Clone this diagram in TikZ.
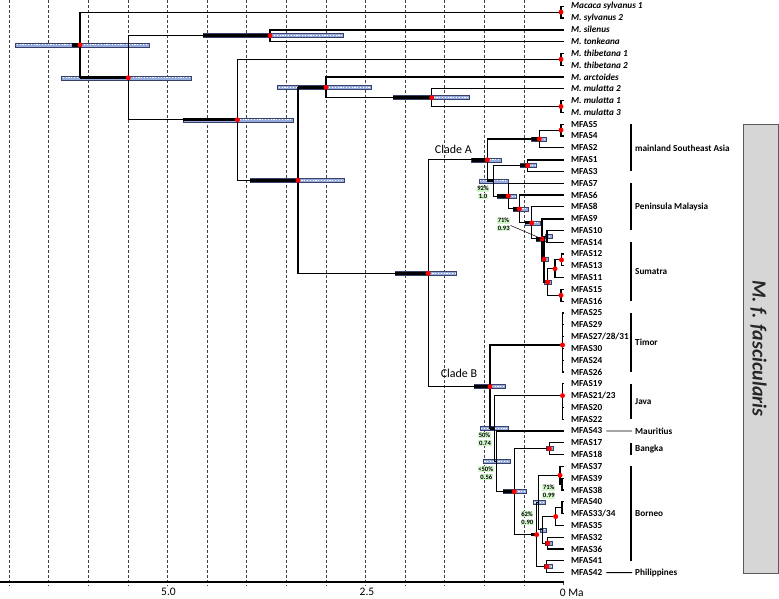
\documentclass[tikz,border=0pt]{standalone}
\usepackage{fontspec}
\setmainfont{Carlito}
\definecolor{hpdfill}{RGB}{150,172,222}
\definecolor{hpdline}{RGB}{55,65,105}
\definecolor{supfill}{RGB}{212,246,204}
\definecolor{boxfill}{RGB}{214,214,214}
\definecolor{boxline}{RGB}{90,90,90}
\tikzset{
  gridln/.style={draw=black!75, line width=0.7pt, dash pattern=on 3pt off 2pt},
  axisln/.style={draw=black, line width=1.3pt},
  br/.style={draw=black, line width=1.1pt},
  thk/.style={draw=black, line width=3.2pt},
  medbr/.style={draw=black, line width=2.1pt},
  hpdbar/.style={fill=hpdfill, draw=hpdline, line width=0.5pt},
  hpddots/.style={draw=white, line width=0.9pt, dash pattern=on 1.2pt off 1.6pt},
  ndot/.style={fill=red},
  leaflab/.style={anchor=west, inner sep=0pt, font=\fontsize{9.2}{10}\selectfont\bfseries},
  oglab/.style={anchor=west, inner sep=0pt, font=\fontsize{9.2}{10}\selectfont\bfseries\itshape},
  reglab/.style={anchor=west, inner sep=0pt, font=\fontsize{9.2}{10}\selectfont\bfseries},
  regbar/.style={draw=black, line width=1.8pt},
  sup/.style={fill=supfill, inner sep=0.7pt, font=\fontsize{6.6}{7}\selectfont\bfseries},
  cladelab/.style={font=\fontsize{12}{14}\selectfont, inner sep=0pt},
  axlab/.style={font=\fontsize{11.5}{13}\selectfont, inner sep=0pt},
  pointer/.style={draw=black, line width=0.5pt},
  connector/.style={draw=black, line width=0.9pt},
}
\newcommand\hpd[3]{\filldraw[hpdbar] (#1,{#3-2}) rectangle (#2,{#3+2}); \draw[hpddots] ({#1+1},#3) -- ({#2-1},#3);}
\newcommand\leaf[3]{\coordinate (#1) at (564,{6.2+11.8*#2}); \node[leaflab] (#1t) at (571,{6.2+11.8*#2}) {#3};}
\newcommand\ogleaf[3]{\coordinate (#1) at (564,{6.2+11.8*#2}); \node[oglab] (#1t) at (571,{6.2+11.8*#2}) {#3};}
\newcommand\dotat[1]{\fill[ndot] (#1) circle (2.5);}
\begin{document}
\begin{tikzpicture}[x=1pt,y=-1pt]
\useasboundingbox (0,0) rectangle (779,598);

% time grid
\foreach \k in {1,...,14} {\draw[gridln] ({563.5-39.6*\k},0) -- ({563.5-39.6*\k},586);}
\draw[gridln] (563.5,582) -- (563.5,586);
\draw[axisln] (0,582) -- (563.5,582);
\node[axlab] (t50) at (168.5,592.3) {5.0};
\node[axlab] (t25) at (367,592.3) {2.5};
\node[axlab, anchor=west] (t00) at (559.7,592.3) {0 Ma};

% leaves
\ogleaf{l0}{0}{Macaca sylvanus 1}
\ogleaf{l1}{1}{M. sylvanus 2}
\ogleaf{l2}{2}{M. silenus}
\ogleaf{l3}{3}{M. tonkeana}
\ogleaf{l4}{4}{M. thibetana 1}
\ogleaf{l5}{5}{M. thibetana 2}
\ogleaf{l6}{6}{M. arctoides}
\ogleaf{l7}{7}{M. mulatta 2}
\ogleaf{l8}{8}{M. mulatta 1}
\ogleaf{l9}{9}{M. mulatta 3}
\leaf{l10}{10}{MFAS5}
\leaf{l11}{11}{MFAS4}
\leaf{l12}{12}{MFAS2}
\leaf{l13}{13}{MFAS1}
\leaf{l14}{14}{MFAS3}
\leaf{l15}{15}{MFAS7}
\leaf{l16}{16}{MFAS6}
\leaf{l17}{17}{MFAS8}
\leaf{l18}{18}{MFAS9}
\leaf{l19}{19}{MFAS10}
\leaf{l20}{20}{MFAS14}
\leaf{l21}{21}{MFAS12}
\leaf{l22}{22}{MFAS13}
\leaf{l23}{23}{MFAS11}
\leaf{l24}{24}{MFAS15}
\leaf{l25}{25}{MFAS16}
\leaf{l26}{26}{MFAS25}
\leaf{l27}{27}{MFAS29}
\leaf{l28}{28}{MFAS27/28/31}
\leaf{l29}{29}{MFAS30}
\leaf{l30}{30}{MFAS24}
\leaf{l31}{31}{MFAS26}
\leaf{l32}{32}{MFAS19}
\leaf{l33}{33}{MFAS21/23}
\leaf{l34}{34}{MFAS20}
\leaf{l35}{35}{MFAS22}
\leaf{l36}{36}{MFAS43}
\leaf{l37}{37}{MFAS17}
\leaf{l38}{38}{MFAS18}
\leaf{l39}{39}{MFAS37}
\leaf{l40}{40}{MFAS39}
\leaf{l41}{41}{MFAS38}
\leaf{l42}{42}{MFAS40}
\leaf{l43}{43}{MFAS33/34}
\leaf{l44}{44}{MFAS35}
\leaf{l45}{45}{MFAS32}
\leaf{l46}{46}{MFAS36}
\leaf{l47}{47}{MFAS41}
\leaf{l48}{48}{MFAS42}

% internal nodes
\coordinate (nR0) at (80,44.9);
\coordinate (nSyl) at (561,12.1);
\coordinate (nR2) at (128.3,77.75);
\coordinate (nSil) at (270,35.7);
\coordinate (nR3) at (237.4,119.8);
\coordinate (nThib) at (561,59.3);
\coordinate (nR4) at (298,180.3);
\coordinate (nR5) at (326,87.3);
\coordinate (nR6) at (431.7,97.65);
\coordinate (nMul) at (561,106.5);
\coordinate (nF) at (428.3,273.3);
\coordinate (nA0) at (487.3,159.9);
\coordinate (nA1) at (539.3,138.95);
\coordinate (nA1a) at (561,130.1);
\coordinate (nA2) at (493.3,180.8);
\coordinate (nA3) at (527.7,165.5);
\coordinate (nA4) at (508.3,196.05);
\coordinate (nA5) at (519.3,208.9);
\coordinate (nA6) at (531.7,222.85);
\coordinate (nA7) at (542,238.9);
\coordinate (nW) at (544,259.15);
\coordinate (nM) at (547,236.3);
\coordinate (nS) at (547.7,282.0);
\coordinate (nS1) at (555,268.75);
\coordinate (nS12) at (561.5,259.9);
\coordinate (nS15) at (561,295.3);
\coordinate (nB0) at (490,386.7);
\coordinate (nT) at (562.5,345);
\coordinate (nB1) at (494.3,428.45);
\coordinate (nJ) at (562.5,395.6);
\coordinate (nB2) at (496.7,461.3);
\coordinate (nB3) at (514.3,491.65);
\coordinate (nBk) at (549.3,448.7);
\coordinate (nB4) at (536.7,534.6);
\coordinate (nB5) at (538.7,502.5);
\coordinate (nBn37) at (560,475.25);
\coordinate (nBn39) at (562,484.1);
\coordinate (nC) at (542.7,529.8);
\coordinate (nBn40) at (555.7,516.55);
\coordinate (nBn40i) at (562,507.7);
\coordinate (nBn2) at (547.7,543.1);
\coordinate (nPh) at (546.7,566.7);

% HPD bars
\hpd{15.7}{149.3}{44.9}
\hpd{61.7}{191.7}{77.75}
\hpd{203}{343}{35.7}
\hpd{182.8}{293}{119.8}
\hpd{250}{344.4}{180.3}
\hpd{277.7}{371.7}{87.3}
\hpd{393.3}{469.3}{97.65}
\hpd{395}{456}{273.3}
\hpd{471.7}{501.7}{159.9}
\hpd{531.7}{546.7}{138.95}
\hpd{479}{508.3}{180.8}
\hpd{520}{536.7}{165.5}
\hpd{497}{516.7}{196.05}
\hpd{513}{528.3}{208.9}
\hpd{525}{540}{222.85}
\hpd{536}{546}{238.9}
\hpd{545}{552}{236.3}
\hpd{541}{548}{259.15}
\hpd{544}{551}{282.0}
\hpd{474}{505}{386.7}
\hpd{480}{508.3}{428.45}
\hpd{483.3}{510}{461.3}
\hpd{503.3}{526}{491.65}
\hpd{546.7}{553}{448.7}
\hpd{533.3}{545}{502.5}
\hpd{540}{546.7}{529.8}
\hpd{545}{552}{543.1}
\hpd{544}{552}{566.7}

% branches: parent |- child
\foreach \p/\c in {nR0/nSyl, nR0/nR2, nSyl/l0, nSyl/l1, nR2/nSil, nR2/nR3,
  nSil/l2, nSil/l3, nR3/nThib, nR3/nR4, nThib/l4, nThib/l5, nR4/nR5, nR4/nF,
  nR5/l6, nR5/nR6, nR6/l7, nR6/nMul, nMul/l8, nMul/l9,
  nF/nA0, nF/nB0, nA0/nA1, nA0/nA2, nA1/nA1a, nA1/l12, nA1a/l10, nA1a/l11,
  nA2/nA3, nA2/nA4, nA3/l13, nA3/l14, nA4/l15, nA4/nA5, nA5/l16, nA5/nA6,
  nA6/l17, nA6/nA7, nA7/l18, nA7/nW, nW/nM, nW/nS, nM/l19, nM/l20,
  nS/nS1, nS/nS15, nS1/nS12, nS1/l23, nS12/l21, nS12/l22, nS15/l24, nS15/l25,
  nB0/nT, nB0/nB1, nT/l26, nT/l27, nT/l28, nT/l29, nT/l30, nT/l31,
  nB1/nJ, nB1/nB2, nJ/l32, nJ/l33, nJ/l34, nJ/l35,
  nB2/l36, nB2/nB3, nB3/nBk, nB3/nB4, nBk/l37, nBk/l38,
  nB4/nB5, nB4/nPh, nB5/nBn37, nB5/nC, nBn37/l39, nBn37/nBn39, nBn39/l40, nBn39/l41,
  nC/nBn40, nC/nBn2, nBn40/nBn40i, nBn40/l44, nBn40i/l42, nBn40i/l43,
  nBn2/l45, nBn2/l46, nPh/l47, nPh/l48}
  {\draw[br] (\p) |- (\c);}
\draw[medbr] (nSil |- l2) -- (l2);
\draw[medbr] (nA3 |- l13) -- (l13);
\draw[medbr] (nA7 |- l18) -- (l18);

% thick parts of branches inside the HPD bars
\draw[thk] (71.7,44.9) -- (nR0);
\draw[thk] (80,77.75) -- (nR2);
\draw[thk] (203,35.7) -- (nSil);
\draw[thk] (182.8,119.8) -- (nR3);
\draw[thk] (250,180.3) -- (nR4);
\draw[thk] (298,87.3) -- (nR5);
\draw[thk] (393.3,97.65) -- (nR6);
\draw[thk] (395,273.3) -- (nF);
\draw[thk] (471.7,159.9) -- (nA0);
\draw[thk] (531.7,138.95) -- (nA1);
\draw[thk] (487.3,180.8) -- (nA2);
\draw[thk] (520,165.5) -- (nA3);
\draw[thk] (497,196.05) -- (nA4);
\draw[thk] (513,208.9) -- (nA5);
\draw[thk] (525,222.85) -- (nA6);
\draw[thk] (536,238.9) -- (nA7);
\draw[thk] (474,386.7) -- (nB0);
\draw[thk] (490,428.45) -- (nB1);
\draw[thk] (503.3,491.65) -- (nB3);
\draw[thk] (546.7,448.7) -- (nBk);
\draw[thk] (531,534.6) -- (nB4);
\draw[thk] (545,543.1) -- (nBn2);
\draw[thk] (544,566.7) -- (nPh);

% node support dots
\foreach \n in {nR0,nSyl,nR2,nSil,nR3,nThib,nR4,nR5,nR6,nMul,nF,nA0,nA1,nA1a,
  nA3,nA4,nA5,nA6,nA7,nW,nS,nS1,nS12,nS15,nB0,nT,nJ,nB3,nBk,nB4,nBn37,nBn40,nBn2,nPh}
  {\dotat{\n}}

% support labels
\node[sup] (s1a) at (483,188.5) {92\%};
\node[sup] (s1b) at (483,196.5) {1.0};
\node[sup] (s2a) at (503.5,220.5) {71\%};
\node[sup] (s2b) at (503.7,228.5) {0.93};
\draw[pointer] (s2b.north east) -- (nA7);
\node[sup] (s3a) at (484.5,435) {50\%};
\node[sup] (s3b) at (485,443) {0.74};
\node[sup] (s4a) at (485.7,469) {<50\%};
\node[sup] (s4b) at (486.3,477) {0.56};
\node[sup] (s5a) at (548.8,487.5) {71\%};
\node[sup] (s5b) at (548.8,495.8) {0.99};
\node[sup] (s6a) at (527,514) {62\%};
\node[sup] (s6b) at (527.3,522.5) {0.90};

% clade labels
\node[cladelab] (cA) at (453.3,149.3) {Clade A};
\node[cladelab] (cB) at (459,373.3) {Clade B};

% regions
\draw[regbar] (631,124.2) -- (631,171.4);
\node[reglab] (rg1) at (635,147.8) {mainland Southeast Asia};
\draw[regbar] (631,183.2) -- (631,230.4);
\node[reglab] (rg2) at (635,206.8) {Peninsula Malaysia};
\draw[regbar] (631,242.2) -- (631,301.2);
\node[reglab] (rg3) at (635,271.7) {Sumatra};
\draw[regbar] (631,313) -- (631,372);
\node[reglab] (rg4) at (635,342.5) {Timor};
\draw[regbar] (631,383.8) -- (631,419.2);
\node[reglab] (rg5) at (635,401.5) {Java};
\node[reglab] (rg6) at (635,431) {Mauritius};
\draw[connector] ([xshift=4pt]l36t.east) -- ([xshift=-3pt]rg6.west);
\draw[regbar] (631,442.8) -- (631,454.6);
\node[reglab] (rg7) at (635,448.7) {Bangka};
\draw[regbar] (631,466.4) -- (631,560.8);
\node[reglab] (rg8) at (635,513.6) {Borneo};
\node[reglab] (rg9) at (635,572.6) {Philippines};
\draw[connector] ([xshift=4pt]l48t.east) -- ([xshift=-3pt]rg9.west);

% taxon box
\filldraw[fill=boxfill, draw=boxline, line width=0.9pt] (743,124) rectangle (778.4,573);
\node[rotate=-90, inner sep=0pt, text=black!85, font=\fontsize{20}{22}\selectfont\bfseries\itshape] (fasc) at (758.5,348.5) {M. f. fascicularis};
\end{tikzpicture}
\end{document}
